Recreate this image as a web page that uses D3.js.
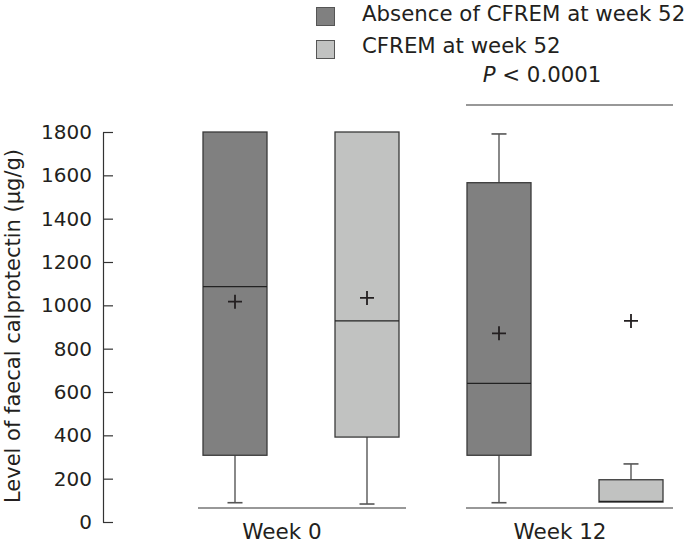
<!DOCTYPE html>
<html>
<head>
<meta charset="utf-8">
<script src="https://cdn.jsdelivr.net/npm/d3@7/dist/d3.min.js"></script>
<style>
  html, body { margin: 0; padding: 0; background: #fff; }
  svg { display: block; }
  text { font-family: "DejaVu Sans", Verdana, sans-serif; fill: #231f20; }
</style>
</head>
<body>
<script>
// ---- Data ----
const groups = ["Week 0", "Week 12"];
const series = ["Absence of CFREM at week 52", "CFREM at week 52"];
const yTicks = [0, 200, 400, 600, 800, 1000, 1200, 1400, 1600, 1800];
const yTitle = "Level of faecal calprotectin (μg/g)";
const pLabel = ["P", " < 0.0001"];

// per box, order: [Week 0 absence, Week 0 CFREM, Week 12 absence, Week 12 CFREM]
const boxGroup   = ["Week 0", "Week 0", "Week 12", "Week 12"];
const boxSeries  = [series[0], series[1], series[0], series[1]];
const whiskerLow = [89, 83, 89, 92];
const q1Values   = [308, 392, 308, 92];
const medians    = [1086, 928, 640, 95];
const q3Values   = [1800, 1800, 1566, 195];
const whiskerHigh= [1800, 1800, 1791, 268];
const means      = [1017, 1034, 871, 928];

// ---- Layout ----
const W = 698, H = 548;
const colors = d3.scaleOrdinal().domain(series).range(["#808080", "#c1c2c1"]);

const svg = d3.select("body").append("svg").attr("width", W).attr("height", H);

const y = d3.scaleLinear().domain([0, 1800]).range([522, 132]);
const xGroup = d3.scaleBand().domain(groups).range([169, 697]).padding(0);
const xSeries = d3.scaleBand().domain(series).range([0, xGroup.bandwidth()]).padding(0);
const boxW = 64;
const capW = 15;

// Y axis
const yAxis = d3.axisLeft(y).tickValues(yTicks).tickFormat(d3.format("d"))
  .tickSizeInner(-10).tickSizeOuter(0).tickPadding(11);
const gy = svg.append("g").attr("transform", "translate(103,0)").call(yAxis);
gy.selectAll("path.domain").attr("stroke", "#333").attr("stroke-width", 1.2);
gy.selectAll(".tick line").attr("stroke", "#333").attr("stroke-width", 1.2);
gy.selectAll(".tick text").style("font-size", "20px").style("font-family", "'DejaVu Sans', Verdana, sans-serif").attr("fill", "#231f20");

svg.append("text")
  .attr("transform", "translate(20,326) rotate(-90)")
  .attr("text-anchor", "middle")
  .style("font-size", "21px")
  .text(yTitle);

// Group baselines and labels
const baseY = y(0) - 14;
const linePadL = [29, 33], linePadR = [27, 24];
const labelShift = [-19, -5];
groups.forEach((g, i) => {
  svg.append("line")
    .attr("x1", xGroup(g) + linePadL[i]).attr("x2", xGroup(g) + xGroup.bandwidth() - linePadR[i])
    .attr("y1", baseY).attr("y2", baseY)
    .attr("stroke", "#333").attr("stroke-width", 1.2);
  svg.append("text")
    .attr("x", xGroup(g) + xGroup.bandwidth() / 2 + labelShift[i])
    .attr("y", 539)
    .attr("text-anchor", "middle")
    .style("font-size", "21.5px")
    .text(g);
});

// Boxes
const boxes = boxGroup.map((g, i) => ({
  g, s: boxSeries[i], lo: whiskerLow[i], q1: q1Values[i], med: medians[i],
  q3: q3Values[i], hi: whiskerHigh[i], mean: means[i]
}));
const cx = d => xGroup(d.g) + xSeries(d.s) + xSeries.bandwidth() / 2;

boxes.forEach(d => {
  const c = cx(d);
  const gB = svg.append("g");
  const stroke = "#3a3a3a";
  if (d.lo < d.q1) {
    gB.append("line").attr("x1", c).attr("x2", c).attr("y1", y(d.q1)).attr("y2", y(d.lo))
      .attr("stroke", stroke).attr("stroke-width", 1.2);
    gB.append("line").attr("x1", c - capW / 2).attr("x2", c + capW / 2).attr("y1", y(d.lo)).attr("y2", y(d.lo))
      .attr("stroke", "#555").attr("stroke-width", 1.6);
  }
  if (d.hi > d.q3) {
    gB.append("line").attr("x1", c).attr("x2", c).attr("y1", y(d.q3)).attr("y2", y(d.hi))
      .attr("stroke", stroke).attr("stroke-width", 1.2);
    gB.append("line").attr("x1", c - capW / 2).attr("x2", c + capW / 2).attr("y1", y(d.hi)).attr("y2", y(d.hi))
      .attr("stroke", "#555").attr("stroke-width", 1.6);
  }
  gB.append("rect")
    .attr("x", c - boxW / 2).attr("y", y(d.q3))
    .attr("width", boxW).attr("height", y(d.q1) - y(d.q3))
    .attr("fill", colors(d.s)).attr("stroke", stroke).attr("stroke-width", 1.3);
  gB.append("line").attr("x1", c - boxW / 2).attr("x2", c + boxW / 2).attr("y1", y(d.med)).attr("y2", y(d.med))
    .attr("stroke", "#222").attr("stroke-width", 1.3);
  const my = y(d.mean);
  gB.append("path")
    .attr("d", `M${c - 7},${my}H${c + 7}M${c},${my - 7}V${my + 7}`)
    .attr("stroke", "#231f20").attr("stroke-width", 1.8).attr("fill", "none");
});

// Legend
const leg = svg.append("g");
series.forEach((s, i) => {
  leg.append("rect").attr("x", 316.5).attr("y", 7.5 + i * 33).attr("width", 18).attr("height", 18)
    .attr("fill", colors(s)).attr("stroke", "#555").attr("stroke-width", 1);
  leg.append("text").attr("x", 362).attr("y", 21 + i * 32)
    .style("font-size", "21.3px").text(s);
});

// Significance annotation over Week 12
const g12 = groups[1];
const px1 = xGroup(g12) + linePadL[1], px2 = xGroup(g12) + xGroup.bandwidth() - linePadR[1];
svg.append("line").attr("x1", px1).attr("x2", px2).attr("y1", 105).attr("y2", 105)
  .attr("stroke", "#333").attr("stroke-width", 1.2);
const pt = svg.append("text").attr("x", 542).attr("y", 82).attr("text-anchor", "middle").style("font-size", "21.3px");
pt.append("tspan").style("font-style", "italic").text(pLabel[0]);
pt.append("tspan").text(pLabel[1]);
</script>
</body>
</html>
